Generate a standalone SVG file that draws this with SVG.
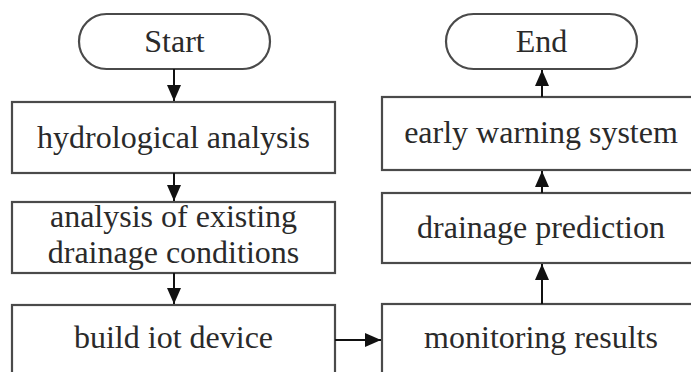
<svg xmlns="http://www.w3.org/2000/svg" width="691" height="372" viewBox="0 0 691 372">
<defs>
<style>
.box{fill:#fff;stroke:#4a4a4a;stroke-width:2.2}
.t{font-family:"Liberation Serif","Times New Roman",serif;font-size:32px;fill:#2a2a2a;text-anchor:middle}
.c{stroke:#111;stroke-width:2;fill:none}
</style>
<marker id="ah" viewBox="0 0 16 14" refX="16" refY="7" markerWidth="16" markerHeight="14" markerUnits="userSpaceOnUse" orient="auto">
<path d="M0,0 L16,7 L0,14 Z" fill="#111"/>
</marker>
</defs>
<rect width="691" height="372" fill="#fff"/>
<g id="start"><rect class="box" x="79" y="14" width="191" height="55" rx="27.5"/><text class="t" x="174.5" y="52">Start</text></g>
<g id="hydro"><rect class="box" x="12" y="102" width="323" height="71"/><text class="t" x="173.5" y="148">hydrological analysis</text></g>
<g id="existing"><rect class="box" x="12" y="202" width="323" height="71"/><text class="t" x="173.5" y="227">analysis of existing</text><text class="t" x="173.5" y="263">drainage conditions</text></g>
<g id="iot"><rect class="box" x="12" y="305" width="323" height="80"/><text class="t" x="173.5" y="348">build iot device</text></g>
<g id="monitor"><rect class="box" x="382" y="304" width="318" height="80"/><text class="t" x="541" y="348">monitoring results</text></g>
<g id="predict"><rect class="box" x="382" y="193" width="318" height="70"/><text class="t" x="541" y="238">drainage prediction</text></g>
<g id="warning"><rect class="box" x="382" y="97" width="318" height="73"/><text class="t" x="541" y="143">early warning system</text></g>
<g id="end"><rect class="box" x="446" y="14" width="191" height="55" rx="27.5"/><text class="t" x="541.5" y="52">End</text></g>
<g id="connectors">
<line class="c" x1="174" y1="69" x2="174" y2="101" marker-end="url(#ah)"/>
<line class="c" x1="174" y1="173" x2="174" y2="201" marker-end="url(#ah)"/>
<line class="c" x1="174" y1="273" x2="174" y2="304" marker-end="url(#ah)"/>
<line class="c" x1="335" y1="340" x2="381" y2="340" marker-end="url(#ah)"/>
<line class="c" x1="542" y1="304" x2="542" y2="264" marker-end="url(#ah)"/>
<line class="c" x1="542" y1="193" x2="542" y2="171" marker-end="url(#ah)"/>
<line class="c" x1="542" y1="97" x2="542" y2="70" marker-end="url(#ah)"/>
</g>
</svg>
